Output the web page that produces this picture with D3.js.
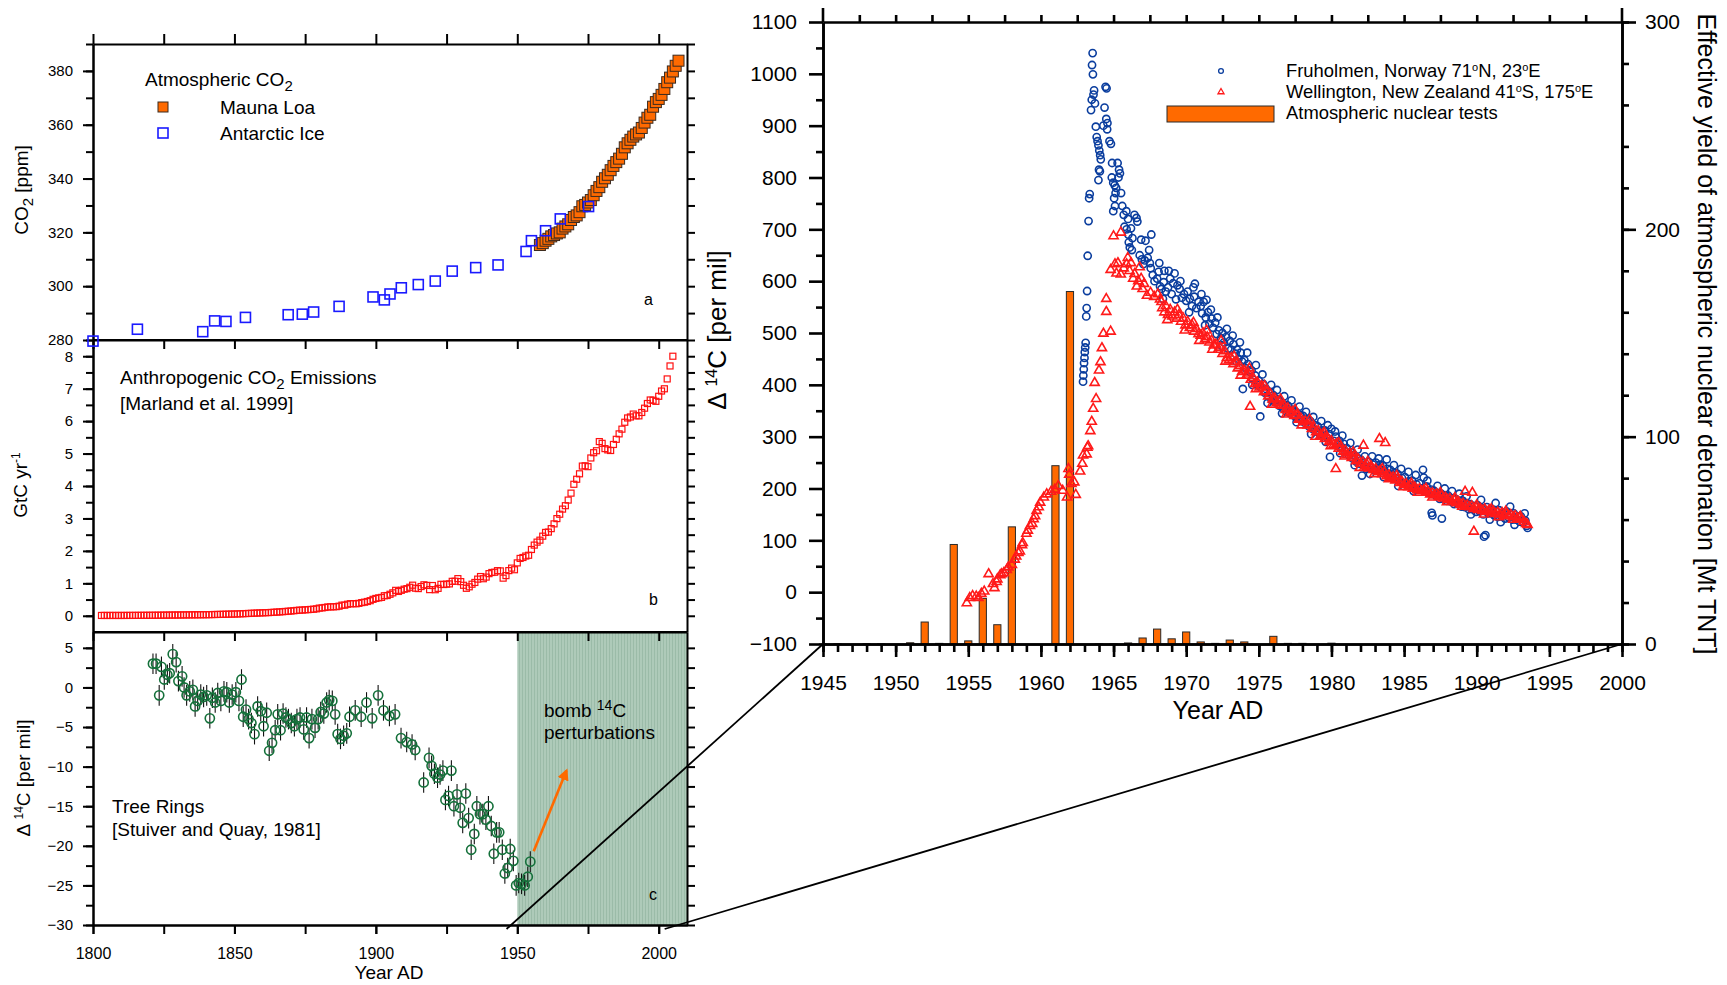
<!DOCTYPE html>
<html><head><meta charset="utf-8">
<script src="https://cdn.jsdelivr.net/npm/d3@7"></script>
<style>body{margin:0;background:#fff}svg{display:block}</style>
</head><body><svg id="chart" width="1727" height="985"></svg>
<script>
// ---------------- DATA ----------------
// Panel a: atmospheric CO2 [ppm]
const maunaLoa = [[1958,315.3],[1959,316.0],[1960,316.9],[1961,317.6],[1962,318.5],[1963,319.0],[1964,319.6],[1965,320.0],[1966,321.4],[1967,322.2],[1968,323.0],[1969,324.6],[1970,325.7],[1971,326.3],[1972,327.5],[1973,329.7],[1974,330.2],[1975,331.1],[1976,332.0],[1977,333.8],[1978,335.4],[1979,336.8],[1980,338.8],[1981,340.1],[1982,341.4],[1983,343.1],[1984,344.7],[1985,346.1],[1986,347.4],[1987,349.2],[1988,351.6],[1989,353.1],[1990,354.4],[1991,355.6],[1992,356.4],[1993,357.1],[1994,358.8],[1995,360.8],[1996,362.6],[1997,363.7],[1998,366.7],[1999,368.4],[2000,369.6],[2001,371.1],[2002,373.3],[2003,375.8],[2004,377.5],[2005,379.8],[2006,381.9],[2007,383.8]];
const antarcticIce = [[1800,279.6],[1815.7,284.0],[1838.8,283.1],[1843,287.1],[1847,286.9],[1853.9,288.4],[1869,289.4],[1874,289.6],[1878,290.4],[1887,292.5],[1899,296.0],[1903,294.9],[1905,297.1],[1909,299.4],[1915,300.6],[1921,301.9],[1927,305.6],[1935.3,306.9],[1943.2,307.9],[1953.1,312.9],[1955,316.9],[1960,320.6],[1965.2,325.0],[1975.2,329.6]];
// Panel b: anthropogenic CO2 emissions [GtC/yr], one value per year from emissionsFirstYear
const emissionsFirstYear = 1803;
const emissions = [0.010,0.010,0.010,0.010,0.010,0.010,0.010,
 0.010,0.010,0.011,0.011,0.011,0.012,0.012,0.013,0.013,0.014,
 0.014,0.015,0.016,0.017,0.018,0.019,0.020,0.021,0.022,0.023,
 0.024,0.025,0.026,0.027,0.028,0.029,0.030,0.031,0.032,0.033,
 0.033,0.035,0.037,0.039,0.041,0.043,0.045,0.047,0.050,0.052,
 0.054,0.057,0.061,0.064,0.068,0.072,0.076,0.080,0.084,0.088,
 0.091,0.095,0.098,0.103,0.108,0.114,0.119,0.126,0.133,0.140,
 0.147,0.156,0.165,0.173,0.176,0.184,0.189,0.196,0.202,0.214,
 0.236,0.243,0.256,0.272,0.275,0.277,0.281,0.295,0.327,0.327,
 0.356,0.372,0.374,0.370,0.383,0.406,0.419,0.440,0.465,0.507,
 0.534,0.552,0.566,0.617,0.624,0.663,0.707,0.784,0.750,0.785,
 0.819,0.836,0.879,0.943,0.850,0.838,0.901,0.955,0.936,0.806,
 0.932,0.803,0.845,0.970,0.963,0.975,0.983,1.062,1.065,1.145,
 1.053,0.940,0.847,0.893,0.973,1.027,1.130,1.209,1.142,1.192,
 1.299,1.334,1.342,1.391,1.383,1.160,1.238,1.392,1.469,1.419,
 1.630,1.768,1.796,1.841,1.865,2.043,2.178,2.270,2.330,2.454,
 2.569,2.580,2.686,2.833,2.995,3.130,3.288,3.393,3.566,3.780,
 4.053,4.208,4.376,4.614,4.623,4.596,4.864,5.026,5.087,5.369,
 5.315,5.152,5.113,5.094,5.280,5.439,5.607,5.752,5.965,6.097,
 6.127,6.217,6.164,6.162,6.266,6.398,6.542,6.651,6.643,6.610,
 6.765,6.927,6.996,7.300,7.700,8.000];
// Panel c: tree-ring D14C [per mil]
const treeRings = [[1821.2,3.0],[1822.3,3.0],[1823.4,-1.0],[1824.2,2.6],[1825.2,1.0],[1826.3,1.6],[1827.1,1.8],[1828.2,4.2],[1829.4,3.2],[1830.2,0.8],[1831.5,1.4],[1832.2,0.0],[1833.1,-1.0],[1834.2,-0.5],[1835.3,-0.3],[1836.1,-2.4],[1837.0,-1.7],[1838.1,-0.9],[1839.1,-1.2],[1840.2,-1.0],[1841.3,-3.9],[1842.2,-1.3],[1843.2,-1.9],[1844.1,-0.7],[1845.2,-1.7],[1846.3,-0.5],[1847.3,-0.6],[1848.2,-1.9],[1849.2,-0.9],[1850.5,-0.6],[1851.6,-1.7],[1852.5,1.0],[1853.1,-3.7],[1854.1,-2.8],[1855.0,-4.0],[1856.0,-4.5],[1857.1,-5.9],[1858.2,-2.4],[1859.3,-3.0],[1860.3,-4.9],[1861.4,-3.2],[1862.3,-8.0],[1863.3,-7.0],[1864.4,-5.4],[1865.3,-3.4],[1866.3,-5.4],[1867.2,-3.3],[1868.2,-3.8],[1869.1,-4.0],[1870.1,-4.5],[1871.2,-4.9],[1872.1,-4.0],[1873.2,-3.8],[1874.5,-5.3],[1875.5,-3.8],[1876.4,-6.4],[1877.4,-4.0],[1878.5,-5.1],[1879.6,-4.0],[1880.5,-3.1],[1881.6,-3.3],[1882.6,-1.9],[1883.5,-1.6],[1884.6,-1.7],[1885.6,-3.4],[1886.5,-5.9],[1887.5,-6.5],[1888.6,-6.1],[1889.7,-5.8],[1890.7,-3.7],[1892.7,-2.9],[1894.8,-3.7],[1896.7,-1.9],[1898.7,-3.9],[1900.8,-1.0],[1902.7,-2.9],[1904.8,-3.6],[1906.8,-3.4],[1908.9,-6.4],[1910.9,-6.9],[1912.8,-7.2],[1913.9,-7.9],[1916.9,-12.0],[1918.8,-8.9],[1919.7,-9.9],[1920.7,-10.9],[1921.8,-11.4],[1922.7,-11.0],[1923.7,-10.5],[1924.6,-14.2],[1925.7,-13.7],[1926.7,-10.5],[1927.6,-15.0],[1928.7,-13.5],[1929.8,-15.2],[1930.7,-17.1],[1931.8,-13.4],[1932.8,-16.5],[1933.7,-20.5],[1934.8,-18.5],[1935.7,-15.0],[1936.8,-16.0],[1937.8,-16.0],[1938.9,-16.7],[1939.8,-15.0],[1940.8,-17.5],[1941.7,-21.0],[1942.7,-18.3],[1943.6,-18.3],[1944.7,-20.5],[1945.6,-23.5],[1946.6,-22.8],[1947.5,-20.4],[1948.6,-21.9],[1949.6,-25.0],[1950.5,-24.7],[1951.5,-24.8],[1952.6,-25.0],[1953.7,-23.9],[1954.6,-22.0]];
const treeRingError = 1.3;
// Right panel: bomb 14C [per mil]
const fruholmen = [[1962.90,406],[1962.92,418],[1962.95,430],[1962.97,442],[1963.00,452],[1963.02,463],[1963.05,472],[1963.08,481],
[1963.12,532],[1963.15,548],[1963.18,581],[1963.22,649],[1963.28,716],[1963.32,760],[1963.36,768],
[1963.45,930],[1963.50,950],[1963.52,1017],[1963.56,1040],[1963.58,999],[1963.62,960],[1963.66,968],[1963.72,943],
[1963.78,898],[1963.84,878],[1963.90,870],[1963.96,862],[1964.02,852],[1964.08,843],[1964.12,835],[1964.00,815],[1964.06,812],[1963.96,795],
[1964.30,900],[1964.38,935],[1964.45,975],[1964.52,972],[1964.50,913],[1964.58,905],[1964.56,893],
[1964.72,870],[1964.82,865],[1964.90,828],[1965.28,828],[1965.38,815],[1965.44,808],[1965.34,800],
[1964.88,800],[1964.98,790],[1965.08,785],[1965.18,780],[1965.14,770],[1965.04,760],[1965.10,745],[1964.98,735],
[1965.52,770],[1965.60,745],[1965.70,728],[1965.88,735],[1966.00,720],[1966.44,728],[1966.58,722],[1966.64,715],
[1965.75,705],[1965.90,700],[1966.02,690],[1966.20,702],[1966.30,683],[1966.05,675],[1966.12,665],[1966.26,660],[1966.90,680],[1967.20,678],
[1966.80,650],[1966.95,642],[1967.05,633],[1967.15,640],[1967.35,645],[1967.50,635],[1967.56,625],[1967.45,660],[1967.60,690],
[1967.70,612],[1967.82,600],[1968.00,605],[1968.20,590],[1968.45,598],[1968.60,580],[1968.50,620],[1968.90,605],[1969.20,615],[1969.40,592],
[1968.10,618],[1968.30,585],[1968.75,588],[1969.00,575],[1969.10,596],[1969.55,585],[1969.70,568],[1969.85,575],[1970.00,562],[1970.10,580],
[1970.25,566],[1970.40,552],[1970.50,588],[1970.55,570],[1970.70,548],[1970.85,560],[1971.40,564],
[1971.0,552],[1971.1,538],[1971.2,560],[1971.35,530],[1971.5,540],[1971.6,518],[1971.75,528],[1971.85,510],
[1972.0,520],[1972.1,498],[1972.25,505],[1972.4,490],[1972.5,500],[1972.6,482],[1972.75,492],[1972.9,470],
[1973.0,485],[1973.1,468],[1973.25,478],[1973.4,460],[1973.5,468],[1973.6,450],[1973.75,462],[1973.9,392],[1973.85,445],
[1974.0,448],[1974.1,432],[1974.25,440],[1974.4,425],[1974.5,428],[1974.6,410],[1974.75,418],[1974.9,400],
[1975.0,408],[1975.1,339],[1975.15,395],[1975.3,402],[1975.4,385],[1975.5,392],[1975.65,378],[1975.8,385],[1975.9,370],
[1976.0,380],[1976.15,366],[1976.3,372],[1976.4,360],[1976.5,368],[1976.65,355],[1976.8,362],[1976.9,348],
[1977.0,360],[1977.15,345],[1977.3,352],[1977.45,340],[1977.55,348],[1977.7,335],[1977.85,342],[1977.95,330],
[1978.05,340],[1978.2,326],[1978.35,333],[1978.45,320],[1978.55,330],[1978.7,315],[1978.85,322],[1978.95,310],
[1979.05,320],[1979.2,305],[1979.35,312],[1979.45,302],[1979.55,312],[1979.7,298],[1979.9,261],[1979.85,305],
[1980.0,315],[1980.15,292],[1980.3,300],[1980.45,285],[1980.55,292],[1980.7,280],[1980.85,286],[1980.95,272],
[1981.05,278],[1981.2,264],[1981.35,270],[1981.45,258],[1981.55,265],[1981.7,252],[1981.85,258],[1981.95,248],
[1982.05,255],[1982.1,225],[1982.25,245],[1982.4,238],[1982.55,252],[1982.7,240],[1982.85,246],[1982.95,236],
[1983.05,250],[1983.2,240],[1983.35,246],[1983.45,236],[1983.55,244],[1983.7,232],[1983.85,238],[1983.95,228],
[1984.05,236],[1984.2,225],[1984.35,230],[1984.45,220],[1984.55,228],[1984.7,215],[1984.85,220],[1984.95,210],
[1985.05,222],[1985.2,208],[1985.35,214],[1985.45,205],[1985.55,215],[1985.7,202],[1985.85,208],[1985.95,198],
[1986.05,210],[1986.2,200],[1986.3,236],[1986.35,221],[1986.45,195],[1986.55,204],[1986.7,192],[1986.9,153],[1986.95,148],[1986.85,198],
[1987.05,196],[1987.2,186],[1987.35,190],[1987.6,142],[1987.45,180],[1987.55,190],[1987.7,180],[1987.85,185],[1987.95,176],
[1988.05,186],[1988.2,175],[1988.35,180],[1988.45,170],[1988.55,180],[1988.7,170],[1988.85,176],[1988.95,165],
[1989.05,176],[1989.2,164],[1989.35,170],[1989.45,160],[1989.55,170],[1989.7,160],[1989.85,166],[1989.95,155],
[1990.05,168],[1990.2,156],[1990.35,162],[1990.5,107],[1990.6,110],[1990.45,150],[1990.7,164],[1990.8,152],[1990.95,158],
[1991.05,160],[1991.2,148],[1991.35,155],[1991.45,145],[1991.55,158],[1991.7,146],[1991.85,152],[1991.95,142],
[1992.05,156],[1992.2,144],[1992.35,150],[1992.45,140],[1992.55,152],[1992.7,140],[1992.85,146],[1992.95,136],
[1993.05,146],[1993.2,134],[1993.35,138],[1993.45,128],[1993.5,124],
[1968.15,635],[1968.4,566],[1968.8,620],[1969.3,565],[1969.6,600],[1970.2,540],[1970.6,595],[1971.05,575],[1971.3,515],[1971.7,545],[1972.15,530],[1972.45,475],[1972.8,508],[1973.2,495],[1973.45,445],[1973.7,482],[1974.2,462],[1974.55,400],[1974.8,438],[1975.25,420],[1975.6,365],[1975.85,400],[1976.25,390],[1976.6,345],[1976.75,378],[1977.25,370],[1977.6,328],[1977.8,358],[1978.25,348],[1978.6,305],[1978.75,338],[1979.3,330],[1979.6,290],[1979.75,322],[1980.25,310],[1980.6,268],[1980.75,302],[1981.3,288],[1981.6,245],[1981.8,275],[1982.3,262],[1982.65,228],[1982.8,262],[1983.25,258],[1983.6,222],[1983.8,256],[1984.3,245],[1984.6,205],[1984.8,238],[1985.3,232],[1985.65,195],[1985.8,226],[1986.6,215],[1987.3,205],[1987.8,200],[1988.3,195],[1988.8,190],[1989.3,185],[1989.6,150],[1990.3,178],[1990.9,140],[1991.3,172],[1991.65,135],[1992.3,165],[1992.6,130],[1993.3,152]];
const wellington = [[1954.9,-21],[1955.1,-11],[1955.3,-7],[1955.55,-8],[1955.7,-11],[1955.9,-3],[1956.1,1.5],[1956.4,35],[1956.7,16],[1956.8,8],[1956.95,20],[1957.0,25],[1957.2,33],[1957.3,35],[1957.45,37],[1957.65,43],[1957.75,48],[1958.0,53],[1958.2,63],[1958.3,69],[1958.45,76],[1958.55,79],[1958.7,91],[1958.75,95],[1959.0,113],[1959.1,119],[1959.25,128],[1959.4,132],[1959.5,141],[1959.6,147],[1959.7,157],[1959.85,164],[1959.95,173],[1960.2,183],[1960.4,189],[1960.7,194],[1960.95,198],[1961.2,205],[1961.5,196],[1961.8,183],[1961.9,238],[1961.95,227],[1962.1,209],[1962.3,212],[1962.4,188],[1962.7,233],[1962.85,248],[1962.9,264],[1963.15,266],[1963.2,279],[1963.25,282],[1963.4,311],[1963.5,329],[1963.6,354],[1963.8,373],[1963.7,404],[1964.0,428],[1964.1,444],[1964.2,471],[1964.3,499],[1964.8,503],
[1964.5,541],[1964.5,566],[1964.8,622],[1965.0,687],[1965.1,633],[1965.3,635],[1965.5,694],[1965.5,613],[1965.9,633],[1965.98,645],[1966.2,635],[1966.45,614],[1966.6,590],[1966.8,627],[1965.2,615],[1965.7,625],[1966.1,620],[1966.35,605],[1966.7,600],[1967.0,585],[1967.1,595],[1966.9,605],
[1967.3,572],[1967.55,578],[1967.8,570],[1968.05,575],[1968.2,565],[1968.35,548],[1968.5,540],[1968.6,552],[1968.75,535],[1968.9,545],
[1969.05,532],[1969.2,540],[1969.35,528],[1969.5,535],[1969.65,522],[1969.8,528],[1969.95,515],[1970.1,522],[1970.25,510],[1970.4,515],[1970.55,503],[1970.7,508],[1970.85,498],
[1971.0,495],[1971.15,500],[1971.3,488],[1971.45,492],[1971.6,482],[1971.75,486],[1971.9,476],[1972.05,478],[1972.2,468],[1972.35,472],[1972.5,460],[1972.65,465],[1972.8,452],
[1972.95,448],[1973.1,452],[1973.25,440],[1973.4,444],[1973.55,432],[1973.7,436],[1973.85,425],[1974.0,428],[1974.15,418],[1974.3,422],[1974.4,358],[1974.45,410],[1974.6,414],[1974.75,402],[1974.9,405],
[1975.05,395],[1975.2,398],[1975.35,386],[1975.5,388],[1975.65,378],[1975.8,382],[1975.95,372],[1976.1,374],[1976.25,366],[1976.4,368],[1976.55,360],[1976.7,362],[1976.85,352],
[1977.0,355],[1977.15,346],[1977.3,348],[1977.45,340],[1977.6,342],[1977.75,333],[1977.9,335],[1978.05,328],[1978.2,330],[1978.35,322],[1978.5,324],[1978.65,315],[1978.8,318],[1978.95,309],
[1979.1,311],[1979.25,302],[1979.4,305],[1979.55,296],[1979.7,299],[1979.85,290],[1980.0,292],[1980.15,284],[1980.3,238],[1980.35,286],[1980.5,277],[1980.65,280],[1980.8,271],[1980.95,273],
[1981.1,265],[1981.25,268],[1981.4,259],[1981.55,262],[1981.7,253],[1981.85,256],[1982.0,248],[1982.15,251],[1982.2,283],[1982.3,243],[1982.45,246],[1982.6,239],[1982.75,242],[1982.9,236],
[1983.05,238],[1983.2,232],[1983.3,296],[1983.35,234],[1983.5,228],[1983.65,231],[1983.7,288],[1983.8,224],[1983.95,226],[1984.1,220],[1984.25,222],[1984.4,216],[1984.55,218],[1984.7,211],[1984.85,213],
[1985.0,207],[1985.15,209],[1985.3,203],[1985.45,205],[1985.6,200],[1985.75,202],[1985.9,197],[1986.05,199],[1986.2,195],[1986.35,197],[1986.5,192],[1986.65,194],[1986.8,189],
[1986.95,191],[1987.1,187],[1987.25,189],[1987.4,184],[1987.55,186],[1987.7,181],[1987.85,183],[1988.0,178],[1988.15,180],[1988.3,175],[1988.45,177],[1988.6,172],[1988.75,174],[1988.9,169],
[1989.05,171],[1989.2,194],[1989.2,166],[1989.35,168],[1989.5,164],[1989.65,166],[1989.7,192],[1989.8,117],[1989.8,161],[1989.95,163],[1990.1,159],[1990.25,161],[1990.4,157],[1990.55,160],[1990.7,155],[1990.85,158],
[1991.0,153],[1991.15,156],[1991.3,151],[1991.45,154],[1991.6,150],[1991.75,153],[1991.9,148],[1992.05,151],[1992.2,147],[1992.35,149],[1992.5,145],[1992.65,147],[1992.8,142],[1992.95,144],
[1993.1,140],[1993.25,136],[1993.4,132],[1993.5,130],
[1968.3,560],[1968.7,525],[1969.4,545],[1969.9,505],[1970.5,520],[1970.9,485],[1971.4,505],[1971.8,468],[1972.4,485],[1972.7,445],[1973.3,455],[1973.75,418],[1974.35,432],[1974.8,392],[1975.4,398],[1975.9,362],[1976.5,372],[1976.9,343],[1977.5,352],[1977.95,322],[1978.5,333],[1978.9,300],[1979.5,308],[1979.95,282],[1980.5,288],[1980.9,262],[1981.5,270],[1981.95,240],[1982.5,252],[1982.95,228],[1983.5,238],[1983.95,218],[1984.5,225],[1984.95,203],[1985.5,210],[1985.95,192],[1986.5,200],[1986.95,183],[1987.5,192],[1987.95,174],[1988.5,182],[1989.0,165],[1990.0,168],[1990.5,150],[1991.0,160],[1991.5,145],[1992.0,156],[1992.5,140],[1993.0,146]];
// Atmospheric nuclear tests, effective yield [Mt TNT]
const testYears  = [1945,1946,1948,1949,1951,1952,1953,1954,1955,1956,1957,1958,1961,1962,1964,1965,1966,1967,1968,1969,1970,1971,1972,1973,1974,1976,1977,1978,1980];
const testYields = [0.04,0.04,0.1,0.02,0.6,10.6,0.3,48,1.5,22,9.3,56.5,86,170,0.02,0.02,0.5,2.9,7.2,2.5,5.8,1.0,0.3,1.9,1.0,3.7,0.3,0.3,0.4];
// tick labels
const leftYearTicks = [1800,1850,1900,1950,2000];
const rightYearTicks = [1945,1950,1955,1960,1965,1970,1975,1980,1985,1990,1995,2000];

// ---------------- DRAWING ----------------
const FONT = '"Liberation Sans", Arial, Helvetica, sans-serif';
const svg = d3.select("#chart").attr("font-family", FONT);

const defs = svg.append("defs");
const pat = defs.append("pattern").attr("id","hatch").attr("patternUnits","userSpaceOnUse").attr("width",3).attr("height",6);
pat.append("rect").attr("width",3).attr("height",6).attr("fill","#aecab9");
pat.append("rect").attr("width",1).attr("height",6).attr("fill","#9bbba8");
defs.append("marker").attr("id","arrow").attr("viewBox","0 0 10 10").attr("refX",8).attr("refY",5)
  .attr("markerWidth",4.5).attr("markerHeight",4.5).attr("orient","auto")
  .append("path").attr("d","M0,0 L10,5 L0,10 z").attr("fill","#ff6a00");

function styleAxis(g, w, fs){
  g.attr("font-family", FONT).attr("font-size", fs);
  g.selectAll("path.domain").attr("stroke","#000").attr("stroke-width",w);
  g.selectAll(".tick line").attr("stroke","#000").attr("stroke-width",w);
  g.selectAll(".tick text").attr("fill","#000");
  return g;
}
function rich(parent, x, y, parts, opts){
  opts = opts || {};
  const t = parent.append("text").attr("x",x).attr("y",y).attr("font-size",opts.fs||19)
    .attr("text-anchor",opts.anchor||"start").attr("fill","#000");
  if (opts.rotate) t.attr("transform",`rotate(${opts.rotate},${x},${y})`);
  let prev = 0;
  parts.forEach(p => {
    const shift = p[1]||0;
    const ts = t.append("tspan").text(p[0]).attr("dy", shift - prev);
    if (p[2]) ts.attr("font-size", p[2]);
    prev = shift;
  });
  return t;
}

// ---- Left panels ----
const L = {x0:93, x1:687};
const PA = {y0:44, y1:340}, PB = {y0:340, y1:632}, PC = {y0:632, y1:925};
const xL = d3.scaleLinear().domain([1800,2010]).range([L.x0,L.x1]);
const yA = d3.scaleLinear().domain([280,390]).range([PA.y1,PA.y0]);
const yB = d3.scaleLinear().domain([-0.5,8.5]).range([PB.y1,PB.y0]);
const yC = d3.scaleLinear().domain([-30,7]).range([PC.y1,PC.y0]);
const yr25 = d3.range(1800,2010,25);

svg.append("rect").attr("x",xL(1950)).attr("y",PC.y0).attr("width",xL(2010)-xL(1950)).attr("height",PC.y1-PC.y0).attr("fill","url(#hatch)");

function leftFrame(P, yScale, minorVals, majorVals, fmt, showTop, showBottomLabels){
  const g = svg.append("g");
  styleAxis(g.append("g").attr("transform",`translate(${L.x0},0)`).call(d3.axisLeft(yScale).tickValues(minorVals).tickSize(7).tickSizeOuter(0).tickFormat("")),2,15);
  styleAxis(g.append("g").attr("transform",`translate(${L.x0},0)`).call(d3.axisLeft(yScale).tickValues(majorVals).tickSize(10).tickPadding(10).tickSizeOuter(0).tickFormat(fmt)),2,15);
  styleAxis(g.append("g").attr("transform",`translate(${L.x1},0)`).call(d3.axisRight(yScale).tickValues(minorVals).tickSize(8).tickSizeOuter(0).tickFormat("")),2,15);
  const bot = g.append("g").attr("transform",`translate(0,${P.y1})`).call(d3.axisBottom(xL).tickValues(yr25).tickSize(9).tickSizeOuter(0).tickFormat(""));
  styleAxis(bot,2,16);
  if (showTop) styleAxis(g.append("g").attr("transform",`translate(0,${P.y0})`).call(d3.axisTop(xL).tickValues(yr25).tickSize(10).tickSizeOuter(0).tickFormat("")),2,15);
  else g.append("line").attr("x1",L.x0).attr("x2",L.x1).attr("y1",P.y0).attr("y2",P.y0).attr("stroke","#000").attr("stroke-width",2);
  if (showBottomLabels){
    const lab = g.append("g").attr("transform",`translate(0,${P.y1})`).call(d3.axisBottom(xL).tickValues(leftYearTicks).tickSize(9).tickPadding(14).tickSizeOuter(0).tickFormat(d3.format("d")));
    styleAxis(lab,2,16);
  }
}
leftFrame(PA, yA, d3.range(280,391,10), d3.range(280,381,20), d3.format("d"), true, false);
leftFrame(PB, yB, d3.range(0,8.01,0.5), d3.range(0,9,1), d3.format("d"), false, false);
leftFrame(PC, yC, d3.range(-30,7,2.5), d3.range(-30,6,5), d3.format("d"), false, true);

svg.append("g").selectAll("rect").data(maunaLoa).join("rect")
  .attr("x",d=>xL(d[0])-5.5).attr("y",d=>yA(d[1])-5.5).attr("width",11).attr("height",11)
  .attr("fill","#ff6a00").attr("stroke","#3b2a1e").attr("stroke-width",1);
svg.append("g").selectAll("rect").data(antarcticIce).join("rect")
  .attr("x",d=>xL(d[0])-5).attr("y",d=>yA(d[1])-5).attr("width",10).attr("height",10)
  .attr("fill","none").attr("stroke","#1a1aff").attr("stroke-width",1.6);
svg.append("g").selectAll("rect").data(emissions).join("rect")
  .attr("x",(d,i)=>xL(emissionsFirstYear+i)-3).attr("y",d=>yB(d)-3).attr("width",6).attr("height",6)
  .attr("fill","none").attr("stroke","#ff1010").attr("stroke-width",1.2);
const gc = svg.append("g");
gc.selectAll("line").data(treeRings).join("line")
  .attr("x1",d=>xL(d[0])).attr("x2",d=>xL(d[0])).attr("y1",d=>yC(d[1]-treeRingError)).attr("y2",d=>yC(d[1]+treeRingError))
  .attr("stroke","#111").attr("stroke-width",1.1);
gc.selectAll("circle").data(treeRings).join("circle")
  .attr("cx",d=>xL(d[0])).attr("cy",d=>yC(d[1])).attr("r",4.6)
  .attr("fill","none").attr("stroke","#14703a").attr("stroke-width",1.6);
svg.append("line").attr("x1",xL(1955.8)).attr("y1",yC(-20.7)).attr("x2",xL(1967.4)).attr("y2",yC(-10.5))
  .attr("stroke","#ff6a00").attr("stroke-width",2.6).attr("marker-end","url(#arrow)");

rich(svg,145,86,[["Atmospheric CO"],["2",5,15]],{fs:19});
svg.append("rect").attr("x",158).attr("y",102).attr("width",10).attr("height",10).attr("fill","#ff6a00").attr("stroke","#3b2a1e").attr("stroke-width",1);
svg.append("rect").attr("x",158).attr("y",128).attr("width",10).attr("height",10).attr("fill","none").attr("stroke","#1a1aff").attr("stroke-width",1.6);
rich(svg,220,114,[["Mauna Loa"]],{fs:19});
rich(svg,220,140,[["Antarctic Ice"]],{fs:19});
rich(svg,644,305,[["a"]],{fs:16});
rich(svg,120,384,[["Anthropogenic CO"],["2",5,15],[" Emissions",0]],{fs:19});
rich(svg,120,410,[["[Marland et al. 1999]"]],{fs:19});
rich(svg,649,605,[["b"]],{fs:16});
rich(svg,112,813,[["Tree Rings"]],{fs:19});
rich(svg,112,836,[["[Stuiver and Quay, 1981]"]],{fs:19});
rich(svg,544,717,[["bomb "],["14",-7,14],["C",0]],{fs:19});
rich(svg,544,739,[["perturbations"]],{fs:19});
rich(svg,649,900,[["c"]],{fs:16});
rich(svg,389,979,[["Year AD"]],{fs:19,anchor:"middle"});
rich(svg,28,190,[["CO"],["2",5,15],[" [ppm]",0]],{fs:19,anchor:"middle",rotate:-90});
rich(svg,27,485,[["GtC yr"],["-1",-7,12]],{fs:19,anchor:"middle",rotate:-90});
rich(svg,30,778,[["Δ "],["14",-7,12],["C [per mil]",0]],{fs:19,anchor:"middle",rotate:-90});

// ---- Right panel ----
const R = {x0:823, x1:1622, y0:22, y1:644};
const xR = d3.scaleLinear().domain([1945,2000]).range([R.x0,R.x1]);
const yR = d3.scaleLinear().domain([-100,1100]).range([R.y1,R.y0]);
const yM = d3.scaleLinear().domain([0,300]).range([R.y1,R.y0]);

svg.append("g").selectAll("rect").data(testYears).join("rect")
  .attr("x",d=>xR(d)-3.6).attr("width",7.2)
  .attr("y",(d,i)=>yM(testYields[i])).attr("height",(d,i)=>yM(0)-yM(testYields[i]))
  .attr("fill","#ff6a00").attr("stroke","#2a2a2a").attr("stroke-width",1);
svg.append("g").selectAll("circle").data(fruholmen).join("circle")
  .attr("cx",d=>xR(d[0])).attr("cy",d=>yR(d[1])).attr("r",3.6)
  .attr("fill","none").attr("stroke","#0a3d9e").attr("stroke-width",1.6);
const tri = d3.symbol().type(d3.symbolTriangle).size(36);
svg.append("g").selectAll("path").data(wellington).join("path")
  .attr("transform",d=>`translate(${xR(d[0])},${yR(d[1])})`).attr("d",tri)
  .attr("fill","none").attr("stroke","#ff1a1a").attr("stroke-width",1.6);

styleAxis(svg.append("g").attr("transform",`translate(${R.x0},0)`).call(d3.axisLeft(yR).tickValues(d3.range(-50,1100,100)).tickSize(7).tickSizeOuter(0).tickFormat("")),2.6,21);
styleAxis(svg.append("g").attr("transform",`translate(${R.x0},0)`).call(d3.axisLeft(yR).tickValues(d3.range(-100,1101,100)).tickSize(14).tickPadding(12).tickSizeOuter(0).tickFormat(d3.format("d"))),2.6,21);
styleAxis(svg.append("g").attr("transform",`translate(${R.x1},0)`).call(d3.axisRight(yM).tickValues(d3.range(0,301,20)).tickSize(7).tickSizeOuter(0).tickFormat("")),2.6,21);
styleAxis(svg.append("g").attr("transform",`translate(${R.x1},0)`).call(d3.axisRight(yM).tickValues([0,100,200,300]).tickSize(14).tickPadding(9).tickSizeOuter(0).tickFormat(d3.format("d"))),2.6,21);
styleAxis(svg.append("g").attr("transform",`translate(0,${R.y1})`).call(d3.axisBottom(xR).tickValues(d3.range(1945,2001,1)).tickSize(8).tickSizeOuter(0).tickFormat("")),2.6,21);
styleAxis(svg.append("g").attr("transform",`translate(0,${R.y1})`).call(d3.axisBottom(xR).tickValues(rightYearTicks).tickSize(13).tickPadding(18).tickSizeOuter(0).tickFormat(d3.format("d"))),2.6,21);
styleAxis(svg.append("g").attr("transform",`translate(0,${R.y0})`).call(d3.axisTop(xR).tickValues(d3.range(1947.5,2000,2.5)).tickSize(7).tickSizeOuter(0).tickFormat("")),2.6,21);
svg.append("line").attr("x1",R.x0).attr("x2",R.x0).attr("y1",8).attr("y2",R.y0).attr("stroke","#000").attr("stroke-width",2.6);
svg.append("line").attr("x1",R.x1).attr("x2",R.x1).attr("y1",8).attr("y2",R.y0).attr("stroke","#000").attr("stroke-width",2.6);

rich(svg,1218,719,[["Year AD"]],{fs:25,anchor:"middle"});
rich(svg,726,330,[["Δ "],["14",-9,16],["C [per mil]",0]],{fs:26,anchor:"middle",rotate:-90});
rich(svg,1698,334,[["Effective yield of atmospheric nuclear detonation [Mt TNT]"]],{fs:25,anchor:"middle",rotate:90});

svg.append("circle").attr("cx",1221).attr("cy",71).attr("r",2.4).attr("fill","none").attr("stroke","#0a3d9e").attr("stroke-width",1.3);
svg.append("path").attr("transform","translate(1221,92)").attr("d",d3.symbol().type(d3.symbolTriangle).size(16)).attr("fill","none").attr("stroke","#ff1a1a").attr("stroke-width",1.3);
svg.append("rect").attr("x",1167).attr("y",106).attr("width",107).attr("height",16).attr("fill","#ff6a00").attr("stroke","#2a2a2a").attr("stroke-width",1);
const sup = (s)=>[s,-6,11];
rich(svg,1286,77,[["Fruholmen, Norway 71"],sup("o"),["N, 23",0],sup("o"),["E",0]],{fs:18.4});
rich(svg,1286,98,[["Wellington, New Zealand 41"],sup("o"),["S, 175",0],sup("o"),["E",0]],{fs:18.4});
rich(svg,1286,119,[["Atmospheric nuclear tests"]],{fs:18.4});

svg.append("line").attr("x1",xL(1946.2)).attr("y1",929).attr("x2",xR(1945)).attr("y2",yR(-100)).attr("stroke","#000").attr("stroke-width",1.8);
svg.append("line").attr("x1",xL(2002.1)).attr("y1",929).attr("x2",xR(2000)).attr("y2",yR(-100)).attr("stroke","#000").attr("stroke-width",1.8);
</script></body></html>
